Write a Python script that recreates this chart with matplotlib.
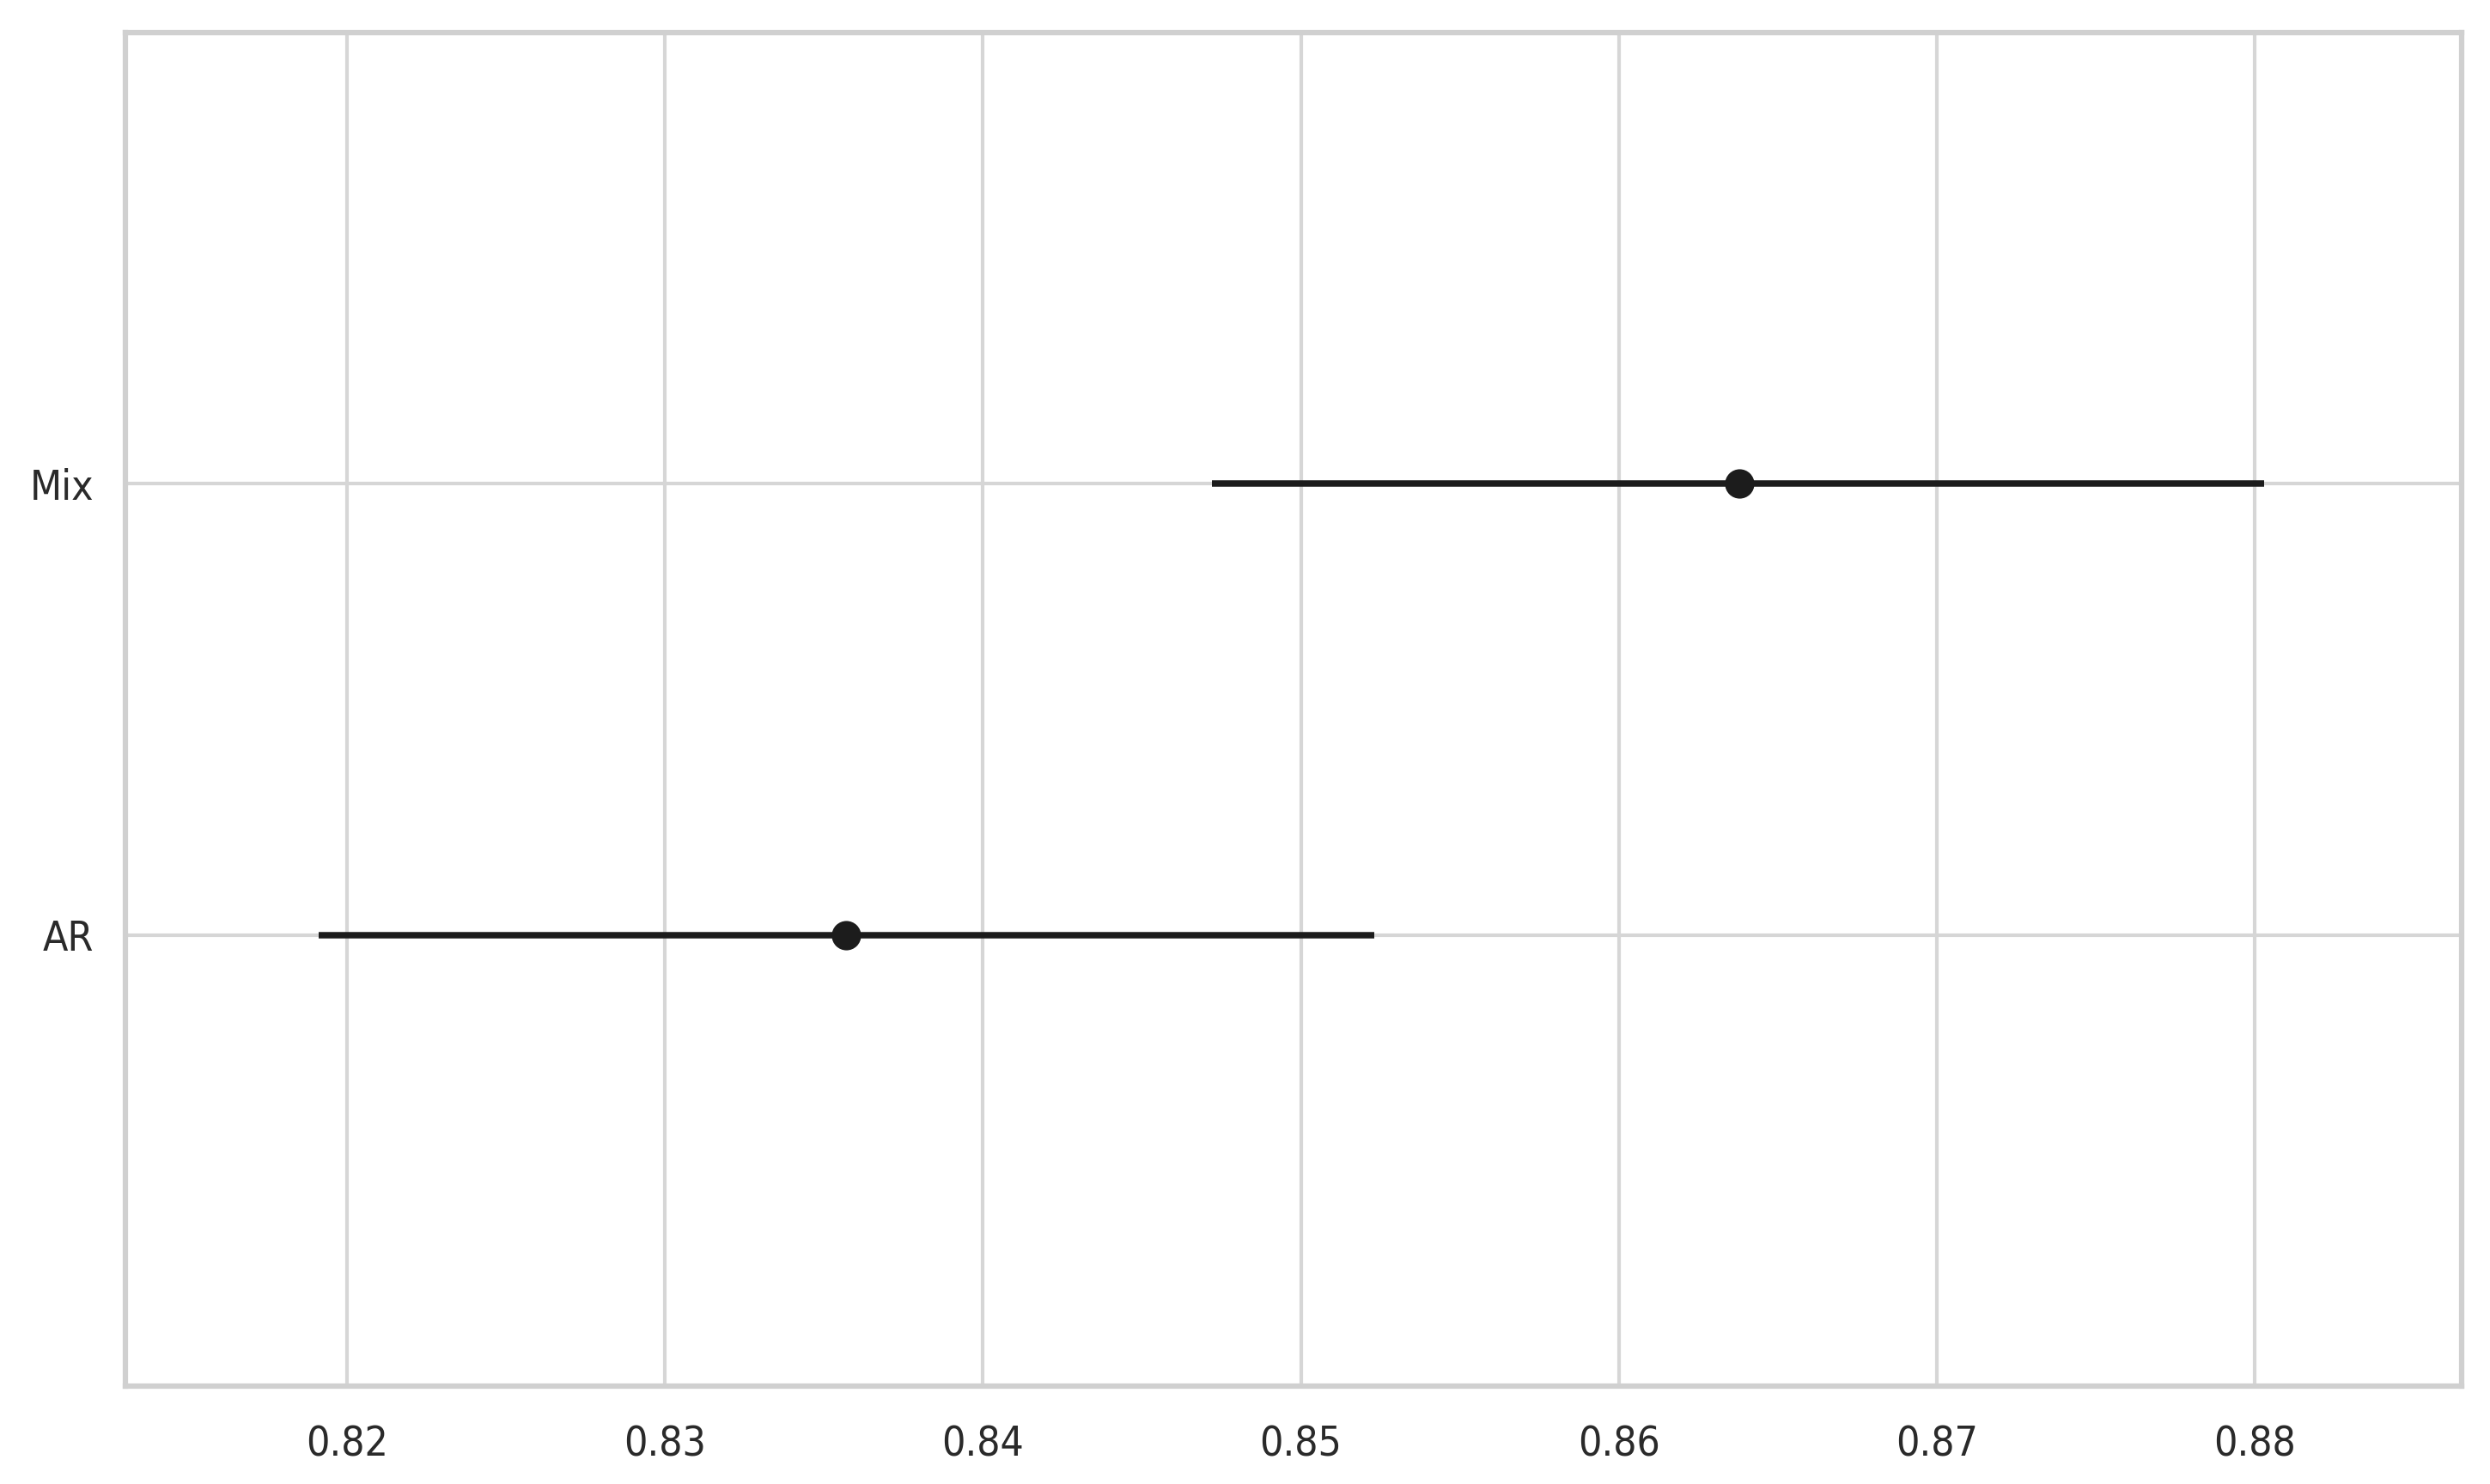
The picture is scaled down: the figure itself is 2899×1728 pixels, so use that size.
import numpy as np
import matplotlib
matplotlib.use("Agg")
import matplotlib.pyplot as plt
import seaborn as sns

# values
models = ["Mix", "AR"]
means = [0.8638, 0.8357]
ci_low = [0.8472, 0.8191]
ci_high = [0.8803, 0.8523]
xticks = [0.82, 0.83, 0.84, 0.85, 0.86, 0.87, 0.88]

sns.set_theme(style="whitegrid")
plt.rcParams['font.family'] = ['DejaVu Sans']
plt.rcParams['font.stretch'] = 'condensed'

fig = plt.figure(figsize=(2899 / 300, 1728 / 300), dpi=300)
ax = fig.add_axes([0.0504, 0.066, 0.9383, 0.912])

ypos = np.arange(len(models))
means = np.array(means)
err = np.array([means - np.array(ci_low), np.array(ci_high) - means])
ax.errorbar(means, ypos, xerr=err, fmt='o', color='#1c1c1c', ms=7.2,
            elinewidth=1.8, capsize=0, zorder=3)

ax.set_yticks(ypos)
ax.set_yticklabels(models)
ax.set_ylim(len(models), -1)
ax.set_xticks(xticks)
ax.set_xticklabels([f"{t:.2f}" for t in xticks])
ax.set_xlim(0.81303, 0.88652)
ax.grid(color='#d6d6d6', linewidth=1.0)
ax.tick_params(labelsize=11.5, colors='#2a2a2a')
ax.tick_params(axis='x', pad=4.6)
ax.tick_params(axis='y', pad=2.8)
for s in ax.spines.values():
    s.set_color('#d0d0d0')
    s.set_linewidth(1.5)

fig.savefig("out.png", dpi=300)
